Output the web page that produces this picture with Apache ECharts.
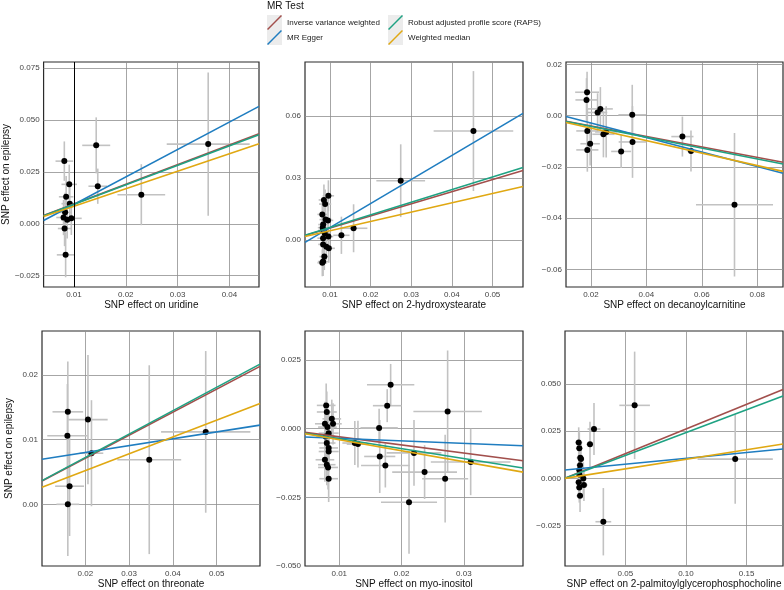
<!DOCTYPE html>
<html>
<head>
<meta charset="utf-8">
<title>MR scatter plots</title>
<script src="https://cdn.jsdelivr.net/npm/echarts@6/dist/echarts.min.js"></script>
<style>
  html, body { margin: 0; padding: 0; background: #fff; }
  #chart { width: 784px; height: 590px; }
</style>
</head>
<body>
<div id="chart"></div>
<script>
// exposure names, one per panel (top row first)
var exposures = ['uridine', '2-hydroxystearate', 'decanoylcarnitine', 'threonate', 'myo-inositol', '2-palmitoylglycerophosphocholine'];
var methods = ['Inverse variance weighted', 'MR Egger', 'Robust adjusted profile score (RAPS)', 'Weighted median'];

// SNP effects: exposure beta, outcome beta, half error bar on each
var uridineX = [0.00815, 0.0143, 0.0146, 0.0230, 0.0359, 0.0091, 0.0085, 0.0092, 0.0083, 0.0080, 0.0087, 0.0095, 0.0082, 0.0084];
var uridineY = [0.0302, 0.0378, 0.0181, 0.0140, 0.0384, 0.0190, 0.0130, 0.0097, 0.0055, 0.0030, 0.0019, 0.0026, -0.0023, -0.0150];
var uridineXErr = [0.0017, 0.0027, 0.0018, 0.0046, 0.0080, 0.0015, 0.0014, 0.0016, 0.0013, 0.0014, 0.0012, 0.0020, 0.0013, 0.0017];
var uridineYErr = [0.0095, 0.0135, 0.0085, 0.0147, 0.0345, 0.0095, 0.0100, 0.0090, 0.0095, 0.0085, 0.0090, 0.0080, 0.0085, 0.0108];

var hydroxyX = [0.0096, 0.0085, 0.0088, 0.0081, 0.0089, 0.0095, 0.0083, 0.0082, 0.0084, 0.0087, 0.0096, 0.0083, 0.0083, 0.0091, 0.0097, 0.0086, 0.0083, 0.0081, 0.0128, 0.0158, 0.0274, 0.0453];
var hydroxyY = [0.0214, 0.0194, 0.0174, 0.0124, 0.0099, 0.0095, 0.0075, 0.0060, 0.0047, 0.0033, 0.0017, 0.0009, -0.0021, -0.0032, -0.0040, -0.0080, -0.0104, -0.0110, 0.0023, 0.0057, 0.0287, 0.0527];
var hydroxyXErr = [0.0014, 0.0013, 0.0015, 0.0012, 0.0015, 0.0013, 0.0012, 0.0012, 0.0013, 0.0013, 0.0012, 0.0014, 0.0012, 0.0012, 0.0015, 0.0012, 0.0013, 0.0012, 0.0020, 0.0034, 0.0060, 0.0098];
var hydroxyYErr = [0.0075, 0.0075, 0.0070, 0.0070, 0.0065, 0.0070, 0.0070, 0.0065, 0.0070, 0.0065, 0.0070, 0.0065, 0.0070, 0.0065, 0.0070, 0.0065, 0.0070, 0.0065, 0.0090, 0.0116, 0.0176, 0.0290];

var decanoylX = [0.0186, 0.0184, 0.0234, 0.0224, 0.0349, 0.0187, 0.0255, 0.0245, 0.0197, 0.0187, 0.0309, 0.0350, 0.0530, 0.0561, 0.0718];
var decanoylY = [0.0091, 0.0061, 0.0026, 0.0012, 0.0003, -0.0060, -0.0064, -0.0073, -0.0110, -0.0134, -0.0140, -0.0103, -0.0082, -0.0138, -0.0348];
var decanoylXErr = [0.0043, 0.0040, 0.0045, 0.0035, 0.0050, 0.0040, 0.0040, 0.0040, 0.0035, 0.0040, 0.0036, 0.0050, 0.0040, 0.0015, 0.0139];
var decanoylYErr = [0.0080, 0.0085, 0.0085, 0.0075, 0.0117, 0.0085, 0.0100, 0.0090, 0.0085, 0.0085, 0.0065, 0.0140, 0.0078, 0.0080, 0.0280];

var threonateX = [0.0160, 0.0159, 0.0206, 0.0214, 0.0164, 0.0160, 0.0346, 0.0475];
var threonateY = [0.0143, 0.0106, 0.0131, 0.0079, 0.0028, 0.0000, 0.0069, 0.0112];
var threonateXErr = [0.0035, 0.0046, 0.0045, 0.0027, 0.0033, 0.0026, 0.0073, 0.0102];
var threonateYErr = [0.0078, 0.0080, 0.0100, 0.0082, 0.0077, 0.0080, 0.0146, 0.0125];

var inositolX = [0.0079, 0.0080, 0.0088, 0.0077, 0.0090, 0.0081, 0.0083, 0.0078, 0.0080, 0.0083, 0.0083, 0.0077, 0.0080, 0.0082, 0.0083, 0.0125, 0.0130, 0.0164, 0.0165, 0.0174, 0.01825, 0.0177, 0.0220, 0.0237, 0.0212, 0.0270, 0.0274, 0.0311];
var inositolY = [0.0085, 0.0061, 0.0036, 0.0018, 0.0018, 0.0006, -0.0016, -0.0028, -0.0052, -0.0070, -0.0083, -0.0113, -0.0131, -0.0141, -0.0182, -0.0052, -0.0056, 0.0003, -0.0101, -0.0134, 0.0160, 0.0084, -0.0088, -0.0158, -0.0268, -0.0182, 0.0063, -0.0121];
var inositolXErr = [0.0015, 0.0016, 0.0015, 0.0016, 0.0014, 0.0015, 0.0016, 0.0015, 0.0014, 0.0015, 0.0016, 0.0015, 0.0014, 0.0016, 0.0015, 0.0020, 0.0018, 0.0030, 0.0025, 0.0039, 0.0038, 0.0023, 0.0044, 0.0052, 0.0045, 0.0037, 0.0055, 0.0064];
var inositolYErr = [0.0080, 0.0075, 0.0070, 0.0080, 0.0075, 0.0070, 0.0075, 0.0080, 0.0075, 0.0080, 0.0075, 0.0080, 0.0075, 0.0080, 0.0085, 0.0080, 0.0085, 0.0070, 0.0133, 0.0080, 0.0076, 0.0060, 0.0120, 0.0098, 0.0187, 0.0160, 0.0222, 0.0121];

var palmitoylX = [0.0116, 0.0121, 0.0129, 0.0135, 0.0127, 0.0121, 0.0121, 0.0154, 0.0116, 0.0159, 0.0121, 0.0127, 0.0209, 0.0242, 0.0577, 0.0319, 0.1406];
var palmitoylY = [0.0190, 0.0159, 0.0109, 0.0102, 0.0070, 0.0044, 0.0021, 0.0000, -0.0021, -0.0035, -0.0048, -0.0092, 0.0180, 0.0261, 0.0386, -0.0229, 0.0102];
var palmitoylXErr = [0.0030, 0.0028, 0.0030, 0.0027, 0.0030, 0.0028, 0.0030, 0.0027, 0.0028, 0.0030, 0.0028, 0.0030, 0.0030, 0.0053, 0.0126, 0.0065, 0.0310];
var palmitoylYErr = [0.0080, 0.0085, 0.0080, 0.0085, 0.0080, 0.0085, 0.0080, 0.0085, 0.0080, 0.0085, 0.0080, 0.0085, 0.0120, 0.0138, 0.0284, 0.0178, 0.0236];

// fitted MR lines per panel (IVW, RAPS and weighted median go through 0)
var ivwSlope = [0.950, 0.585, -0.204, 0.356, -0.295, 0.261];
var eggerSlope = [1.324, 1.163, -0.282, 0.106, -0.0914, 0.0618];
var eggerIntercept = [-0.0039, -0.0056, 0.0027, 0.0059, -0.0026, 0.0044];
var rapsSlope = [0.940, 0.611, -0.212, 0.362, -0.362, 0.242];
var wmSlope = [0.845, 0.450, -0.244, 0.260, -0.400, 0.101];

// axis ranges and tick labels
var xMin = [0.00415, 0.00384, 0.0110, 0.0101, 0.0045, 0.0003];
var xMax = [0.0457, 0.0575, 0.0893, 0.0599, 0.0395, 0.1800];
var yMin = [-0.0305, -0.0227, -0.0669, -0.00954, -0.050, -0.0463];
var yMax = [0.0780, 0.0861, 0.0209, 0.0268, 0.0356, 0.0779];
var xTicks = [[0.01, 0.02, 0.03, 0.04], [0.01, 0.02, 0.03, 0.04, 0.05], [0.02, 0.04, 0.06, 0.08], [0.02, 0.03, 0.04, 0.05], [0.01, 0.02, 0.03], [0.05, 0.10, 0.15]];
var yTicks = [[-0.025, 0, 0.025, 0.05, 0.075], [0, 0.03, 0.06], [-0.06, -0.04, -0.02, 0, 0.02], [0, 0.01, 0.02], [-0.05, -0.025, 0, 0.025], [-0.025, 0, 0.025, 0.05]];
var xDigits = [2, 2, 2, 2, 2, 2];
var yDigits = [3, 2, 2, 2, 3, 3];

var panelX = [uridineX, hydroxyX, decanoylX, threonateX, inositolX, palmitoylX];
var panelY = [uridineY, hydroxyY, decanoylY, threonateY, inositolY, palmitoylY];
var panelXErr = [uridineXErr, hydroxyXErr, decanoylXErr, threonateXErr, inositolXErr, palmitoylXErr];
var panelYErr = [uridineYErr, hydroxyYErr, decanoylYErr, threonateYErr, inositolYErr, palmitoylYErr];

var colors = ['#a24f4c', '#1f7dc0', '#1fa283', '#e0a812'];
var font = '"Liberation Sans", Arial, sans-serif';
var gridPos = [
    { left: 41, top: 62, width: 218, height: 225 },
    { left: 305, top: 62, width: 218, height: 225 },
    { left: 566, top: 62, width: 217, height: 225 },
    { left: 42, top: 331, width: 218, height: 235 },
    { left: 305, top: 331, width: 218, height: 235 },
    { left: 565, top: 331, width: 218, height: 235 }
];

function fmt(v, d) {
    return v.toFixed(d).replace('-', '\u2212');
}

function renderErrorBars(params, api) {
    var x = api.value(0), y = api.value(1), ex = api.value(2), ey = api.value(3);
    var h0 = api.coord([x - ex, y]), h1 = api.coord([x + ex, y]);
    var v0 = api.coord([x, y - ey]), v1 = api.coord([x, y + ey]);
    var style = { stroke: '#c2c2c2', lineWidth: 1.6 };
    return {
        type: 'group',
        children: [
            { type: 'line', shape: { x1: h0[0], y1: h0[1], x2: h1[0], y2: h1[1] }, style: style },
            { type: 'line', shape: { x1: v0[0], y1: v0[1], x2: v1[0], y2: v1[1] }, style: style }
        ]
    };
}

var grids = [], xAxes = [], yAxes = [], series = [];

for (var p = 0; p < 6; p++) {
    grids.push(Object.assign({
        show: true,
        borderColor: '#2b2b2b',
        borderWidth: 1.2,
        backgroundColor: '#fff'
    }, gridPos[p]));

    (function (p) {
        xAxes.push({
            type: 'value',
            gridIndex: p,
            min: xMin[p],
            max: xMax[p],
            name: 'SNP effect on ' + exposures[p],
            nameLocation: 'middle',
            nameGap: 13,
            nameTextStyle: { fontSize: 10, color: '#111', fontFamily: font },
            axisLine: { show: false },
            axisTick: { show: false, customValues: xTicks[p] },
            axisLabel: {
                customValues: xTicks[p],
                fontSize: 8,
                color: '#444',
                margin: 4,
                fontFamily: font,
                formatter: function (v) { return fmt(v, xDigits[p]); }
            },
            splitLine: { show: true, lineStyle: { color: '#8f8f8f', width: 0.8 } }
        });
        yAxes.push({
            type: 'value',
            gridIndex: p,
            min: yMin[p],
            max: yMax[p],
            name: p % 3 === 0 ? 'SNP effect on epilepsy' : '',
            nameLocation: 'middle',
            nameGap: 28,
            nameTextStyle: { fontSize: 10, color: '#111', fontFamily: font },
            axisLine: { show: false },
            axisTick: { show: false, customValues: yTicks[p] },
            axisLabel: {
                customValues: yTicks[p],
                fontSize: 8,
                color: '#444',
                margin: 4,
                fontFamily: font,
                formatter: function (v) { return fmt(v, yDigits[p]); }
            },
            splitLine: { show: true, lineStyle: { color: '#8f8f8f', width: 0.8 } }
        });
    })(p);

    var pts = [], bars = [];
    for (var i = 0; i < panelX[p].length; i++) {
        pts.push([panelX[p][i], panelY[p][i]]);
        bars.push([panelX[p][i], panelY[p][i], panelXErr[p][i], panelYErr[p][i]]);
    }

    series.push({
        type: 'custom',
        name: 'errors' + p,
        xAxisIndex: p,
        yAxisIndex: p,
        renderItem: renderErrorBars,
        encode: { x: 0, y: 1 },
        clip: true,
        silent: true,
        z: 1,
        data: bars
    });

    var scatter = {
        type: 'scatter',
        name: 'snps' + p,
        xAxisIndex: p,
        yAxisIndex: p,
        symbol: 'circle',
        symbolSize: 6,
        itemStyle: { color: '#000', opacity: 1 },
        silent: true,
        z: 2,
        data: pts
    };
    if (p === 0) {
        // the darker vertical rule in the first panel
        scatter.markLine = {
            silent: true,
            symbol: ['none', 'none'],
            label: { show: false },
            lineStyle: { color: '#000', width: 1, type: 'solid' },
            data: [{ xAxis: 0.01 }]
        };
    }
    series.push(scatter);

    var slopes = [ivwSlope[p], eggerSlope[p], rapsSlope[p], wmSlope[p]];
    var intercepts = [0, eggerIntercept[p], 0, 0];
    for (var m = 0; m < 4; m++) {
        series.push({
            type: 'line',
            name: methods[m],
            xAxisIndex: p,
            yAxisIndex: p,
            showSymbol: false,
            silent: true,
            z: 3,
            color: colors[m],
            lineStyle: { color: colors[m], width: 1.6 },
            data: [
                [xMin[p], intercepts[m] + slopes[m] * xMin[p]],
                [xMax[p], intercepts[m] + slopes[m] * xMax[p]]
            ]
        });
    }
}

var iconPath = 'path://M0,18.6 L18.6,0 L20,1.4 L1.4,20 Z';

function legendBlock(left, names) {
    return {
        left: left,
        top: 15,
        padding: 0,
        orient: 'vertical',
        itemWidth: 15,
        itemHeight: 15,
        itemGap: 0,
        selectedMode: false,
        icon: iconPath,
        textStyle: { fontSize: 8, color: '#222', fontFamily: font },
        data: names.map(function (n) {
            return { name: n, itemStyle: { color: colors[methods.indexOf(n)] } };
        })
    };
}

var option = {
    backgroundColor: '#fff',
    animation: false,
    title: {
        text: 'MR Test',
        left: 267,
        top: 1,
        padding: 0,
        textStyle: { fontSize: 10, fontWeight: 'normal', color: '#111', fontFamily: font }
    },
    legend: [
        legendBlock(267, [methods[0], methods[1]]),
        legendBlock(388, [methods[2], methods[3]])
    ],
    graphic: [
        { type: 'rect', left: 267, top: 15, shape: { width: 15, height: 15 }, style: { fill: '#ececec' } },
        { type: 'rect', left: 267, top: 30, shape: { width: 15, height: 15 }, style: { fill: '#ececec' } },
        { type: 'rect', left: 388, top: 15, shape: { width: 15, height: 15 }, style: { fill: '#ececec' } },
        { type: 'rect', left: 388, top: 30, shape: { width: 15, height: 15 }, style: { fill: '#ececec' } }
    ],
    grid: grids,
    xAxis: xAxes,
    yAxis: yAxes,
    series: series
};

var chart = echarts.init(document.getElementById('chart'));
chart.setOption(option);
</script>
</body>
</html>
